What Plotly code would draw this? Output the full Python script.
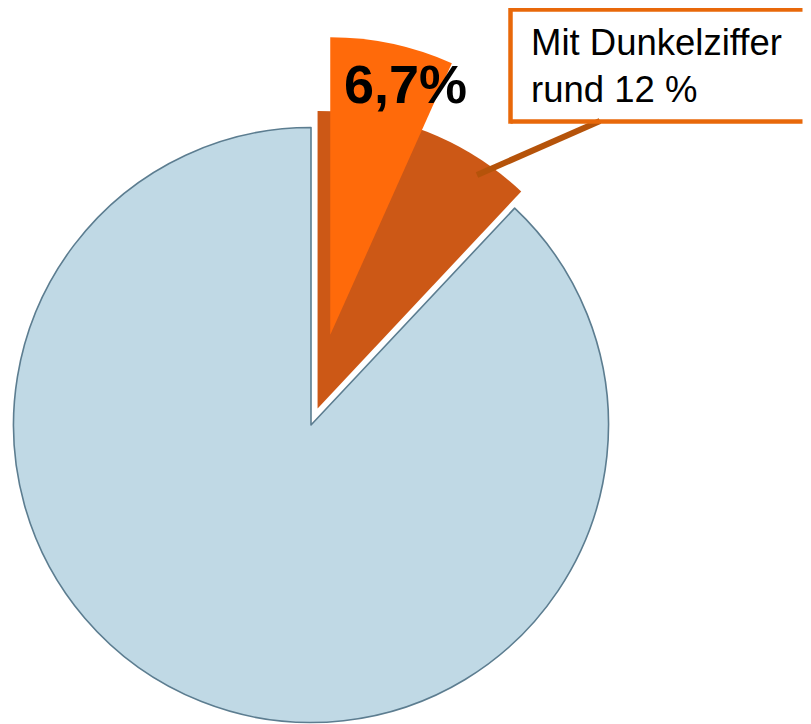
import math
import plotly.graph_objects as go

# ---- data ----
labels_total = ["Mit Dunkelziffer", "Übrige"]
values_total = [12, 88]            # % incl. estimated unreported cases
labels_known = ["Bekannt", "Rest"]
values_known = [6.7, 93.3]         # % known cases
label_known_text = "6,7%"
box_text = ["Mit Dunkelziffer", "rund 12 %"]

# ---- styling / layout constants ----
W, H = 811, 724
OFF = 8                            # page body margin compensation
CX, CY, R = 311, 425, 297.5        # pixel centre and radius of main pie
PULL_TOTAL = 0.06
PULL_KNOWN = 0.31
BLUE = "#C0D9E5"
BLUE_LINE = "#5C7D90"
DARK_ORANGE = "#CC5816"
BRIGHT_ORANGE = "#FF6A0A"
BOX_ORANGE = "#E8680A"
LEADER = "#B5530A"
CLEAR = "rgba(0,0,0,0)"


def mid_angle(values):
    # mid-angle of first slice (clockwise from 12 o'clock), radians
    return math.pi * values[0] / sum(values)


def px(x):
    return (x - OFF) / W


def py(y):
    return 1 - (y - OFF) / H


def domain(cx, cy, r):
    return dict(x=[px(cx - r), px(cx + r)],
                y=[py(cy + r), py(cy - r)])


def pulled_centre(values, pull):
    a = mid_angle(values)
    return CX + pull * R * math.sin(a), CY - pull * R * math.cos(a)


fig = go.Figure()

# main light-blue pie (orange part left transparent)
fig.add_trace(go.Pie(
    labels=labels_total, values=values_total, sort=False,
    direction="clockwise", rotation=0, textinfo="none", hoverinfo="label+value",
    marker=dict(colors=[CLEAR, BLUE], line=dict(color=BLUE_LINE, width=[0, 1.6])),
    domain=domain(CX, CY, R), showlegend=False,
))

# dark orange 12 % wedge, slightly exploded
cx2, cy2 = pulled_centre(values_total, PULL_TOTAL)
fig.add_trace(go.Pie(
    labels=labels_total, values=values_total, sort=False,
    direction="clockwise", rotation=0, textinfo="none", hoverinfo="label+value",
    marker=dict(colors=[DARK_ORANGE, CLEAR], line=dict(width=0)),
    domain=domain(cx2, cy2, R), showlegend=False,
))

# bright orange 6.7 % wedge, strongly exploded
cx3, cy3 = pulled_centre(values_known, PULL_KNOWN)
fig.add_trace(go.Pie(
    labels=labels_known, values=values_known, sort=False,
    direction="clockwise", rotation=0, textinfo="none", hoverinfo="label+value",
    marker=dict(colors=[BRIGHT_ORANGE, CLEAR], line=dict(width=0)),
    domain=domain(cx3, cy3, R), showlegend=False,
))

BX0, BX1, BY0, BY1 = 510.5, 802.5, 9.5, 121.5
bline = dict(color=BOX_ORANGE, width=4.5)
shapes = [
    dict(type="line", xref="paper", yref="paper",
         x0=px(600), y0=py(121), x1=px(477), y1=py(175),
         line=dict(color=LEADER, width=6)),
    dict(type="line", xref="paper", yref="paper",
         x0=px(BX0), y0=py(BY0 - 2.2), x1=px(BX0), y1=py(BY1 + 2.2), line=bline),
    dict(type="line", xref="paper", yref="paper",
         x0=px(BX0), y0=py(BY0), x1=px(BX1), y1=py(BY0), line=bline),
    dict(type="line", xref="paper", yref="paper",
         x0=px(BX0), y0=py(BY1), x1=px(BX1), y1=py(BY1), line=bline),
]

annotations = [
    dict(text="<b>" + label_known_text + "</b>", x=px(405), y=py(84),
         xref="paper", yref="paper", showarrow=False,
         xanchor="center", yanchor="middle",
         font=dict(family="Liberation Sans, Arial", size=54, color="black")),
    dict(text="<br>".join(box_text), x=px(529), y=py(66),
         xref="paper", yref="paper", showarrow=False, align="left",
         xanchor="left", yanchor="middle",
         font=dict(family="Liberation Sans, Arial", size=36.5, color="black")),
]

fig.update_layout(
    width=W, height=H, autosize=False,
    margin=dict(l=0, r=0, t=0, b=0),
    paper_bgcolor="white", plot_bgcolor="white",
    shapes=shapes, annotations=annotations,
)

fig.write_html("out.html")
